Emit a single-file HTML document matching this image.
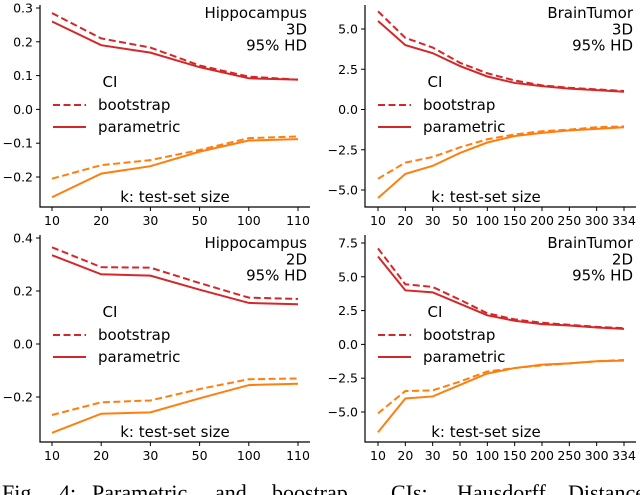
<!DOCTYPE html>
<html><head><meta charset="utf-8"><style>
html,body{margin:0;padding:0;background:#fff;width:640px;height:495px;overflow:hidden}
svg{display:block}
</style></head><body>
<svg id="fig" width="640" height="495" xmlns="http://www.w3.org/2000/svg" font-family="'DejaVu Sans', sans-serif"></svg>
<script>
const catsHippo = ["10","20","30","50","100","110"];
const catsBrain = ["10","20","30","50","100","150","200","250","300","334"];

const tlBootUp = [0.285,0.21,0.183,0.13,0.097,0.088];
const tlParUp = [0.26,0.19,0.168,0.125,0.092,0.088];
const tlBootLo = [-0.205,-0.165,-0.15,-0.12,-0.085,-0.08];
const tlParLo = [-0.26,-0.19,-0.168,-0.125,-0.092,-0.088];
const tlTicks = ["0.3","0.2","0.1","0.0","−0.1","−0.2"];
const tlTickVals = [0.3,0.2,0.1,0,-0.1,-0.2];

const trBootUp = [6.1,4.45,3.85,2.9,2.25,1.8,1.5,1.35,1.25,1.15];
const trParUp = [5.5,4.0,3.5,2.7,2.05,1.65,1.45,1.3,1.2,1.1];
const trBootLo = [-4.3,-3.3,-2.95,-2.35,-1.85,-1.55,-1.35,-1.25,-1.1,-1.05];
const trParLo = [-5.5,-4.0,-3.5,-2.7,-2.05,-1.65,-1.45,-1.3,-1.2,-1.1];
const trTicks = ["5.0","2.5","0.0","−2.5","−5.0"];
const trTickVals = [5,2.5,0,-2.5,-5];

const blBootUp = [0.365,0.29,0.288,0.23,0.175,0.17];
const blParUp = [0.335,0.263,0.258,0.205,0.155,0.15];
const blBootLo = [-0.268,-0.22,-0.213,-0.17,-0.133,-0.13];
const blParLo = [-0.335,-0.263,-0.258,-0.205,-0.155,-0.15];
const blTicks = ["0.4","0.2","0.0","−0.2"];
const blTickVals = [0.4,0.2,0,-0.2];

const brBootUp = [7.1,4.45,4.25,3.3,2.3,1.85,1.6,1.45,1.3,1.2];
const brParUp = [6.5,4.0,3.85,3.0,2.15,1.75,1.5,1.4,1.25,1.15];
const brBootLo = [-5.1,-3.45,-3.4,-2.75,-2.0,-1.75,-1.55,-1.4,-1.25,-1.15];
const brParLo = [-6.5,-4.0,-3.85,-3.0,-2.15,-1.75,-1.5,-1.4,-1.25,-1.2];
const brTicks = ["7.5","5.0","2.5","0.0","−2.5","−5.0"];
const brTickVals = [7.5,5,2.5,0,-2.5,-5];

const NS="http://www.w3.org/2000/svg";
const svg=document.getElementById('fig');
function mk(tag,attrs,parent){const e=document.createElementNS(NS,tag);for(const k in attrs)e.setAttribute(k,attrs[k]);(parent||svg).appendChild(e);return e;}

function panel(name,o){
  const g=mk('g',{});
  
  
  const n=o.cats.length;
  const xs=i=>o.x0+(o.x1-o.x0)*i/(n-1);
  const ys=v=>o.yA+(v-o.vA)*(o.yB-o.yA)/(o.vB-o.vA);
  const ax=mk('path',{d:`M${o.axX},${o.top}V${o.bot}H${o.right}`,stroke:'#000','stroke-width':1.2,fill:'none'},g);
  
  
  o.tickVals.forEach((v,i)=>{
    const y=ys(v);
    mk('line',{x1:o.axX-4,x2:o.axX,y1:y,y2:y,stroke:'#000','stroke-width':1},g);
    const t=mk('text',{x:o.axX-7,y:y+4.5,'text-anchor':'end','font-size':12.5},g);
    t.textContent=o.ticks[i];
    
    
  });
  o.cats.forEach((c,i)=>{
    const x=xs(i);
    mk('line',{x1:x,x2:x,y1:o.bot,y2:o.bot+4,stroke:'#000','stroke-width':1},g);
    const t=mk('text',{x:x,y:o.bot+18,'text-anchor':'middle','font-size':12.5},g);
    t.textContent=c;
    
    
  });
  const series=[[o.bu,'#d62728',true,'bootstrap-upper'],[o.pu,'#d62728',false,'parametric-upper'],[o.bl,'#ff7f0e',true,'bootstrap-lower'],[o.pl,'#ff7f0e',false,'parametric-lower']];
  series.forEach(s=>{
    const p=mk('polyline',{points:s[0].map((v,i)=>xs(i)+','+ys(v)).join(' '),fill:'none',stroke:s[1],'stroke-width':2,'stroke-dasharray':s[2]?'7,3.5':'none'},g);
    
    
  });
  o.title.forEach((l,i)=>{
    const t=mk('text',{x:o.titleX,y:18+i*16.3+o.top-5,'text-anchor':'end','font-size':15},g);
    t.textContent=l;
    
    
  });
  const lx=o.axX+13, ly=o.top-5;
  const ci=mk('text',{x:lx+57,y:ly+87,'font-size':15,'text-anchor':'middle'},g);
  ci.textContent='CI';
  
  
  mk('line',{x1:lx,x2:lx+33,y1:ly+105,y2:ly+105,stroke:'#d62728','stroke-width':2,'stroke-dasharray':'7,3.5'},g);
  const b=mk('text',{x:lx+45,y:ly+110,'font-size':15},g);b.textContent='bootstrap';
  
  
  mk('line',{x1:lx,x2:lx+33,y1:ly+127,y2:ly+127,stroke:'#d62728','stroke-width':2},g);
  const p=mk('text',{x:lx+45,y:ly+132,'font-size':15},g);p.textContent='parametric';
  
  
  const k=mk('text',{x:o.kX,y:o.bot-5,'font-size':15,'text-anchor':'middle'},g);
  k.textContent='k: test-set size';
  
  
}

panel('hippocampus-3d-panel',{cats:catsHippo,x0:52,x1:298,axX:40,right:310,top:5,bot:207,yA:8,vA:0.3,yB:177,vB:-0.2,ticks:tlTicks,tickVals:tlTickVals,bu:tlBootUp,pu:tlParUp,bl:tlBootLo,pl:tlParLo,title:['Hippocampus','3D','95% HD'],titleX:307,kX:175});
panel('braintumor-3d-panel',{cats:catsBrain,x0:378,x1:624,axX:365,right:636,top:5,bot:207,yA:29,vA:5,yB:190,vB:-5,ticks:trTicks,tickVals:trTickVals,bu:trBootUp,pu:trParUp,bl:trBootLo,pl:trParLo,title:['BrainTumor','3D','95% HD'],titleX:633,kX:486});
panel('hippocampus-2d-panel',{cats:catsHippo,x0:52,x1:298,axX:40,right:310,top:235,bot:442,yA:238,vA:0.4,yB:397,vB:-0.2,ticks:blTicks,tickVals:blTickVals,bu:blBootUp,pu:blParUp,bl:blBootLo,pl:blParLo,title:['Hippocampus','2D','95% HD'],titleX:307,kX:175});
panel('braintumor-2d-panel',{cats:catsBrain,x0:378,x1:624,axX:365,right:636,top:235,bot:442,yA:243,vA:7.5,yB:412,vB:-5,ticks:brTicks,tickVals:brTickVals,bu:brBootUp,pu:brParUp,bl:brBootLo,pl:brParLo,title:['BrainTumor','2D','95% HD'],titleX:633,kX:486});

const capWords=[["Fig.",2],["4:",59],["Parametric",92],["and",215],["boostrap",272],["CIs:",391],["Hausdorff",457],["Distance",568]];
capWords.forEach(w=>{
  const t=mk('text',{x:w[1],y:500,'font-size':22,'font-family':"'Liberation Serif', serif"});
  t.textContent=w[0];
  
  
});
</script>
</body></html>
